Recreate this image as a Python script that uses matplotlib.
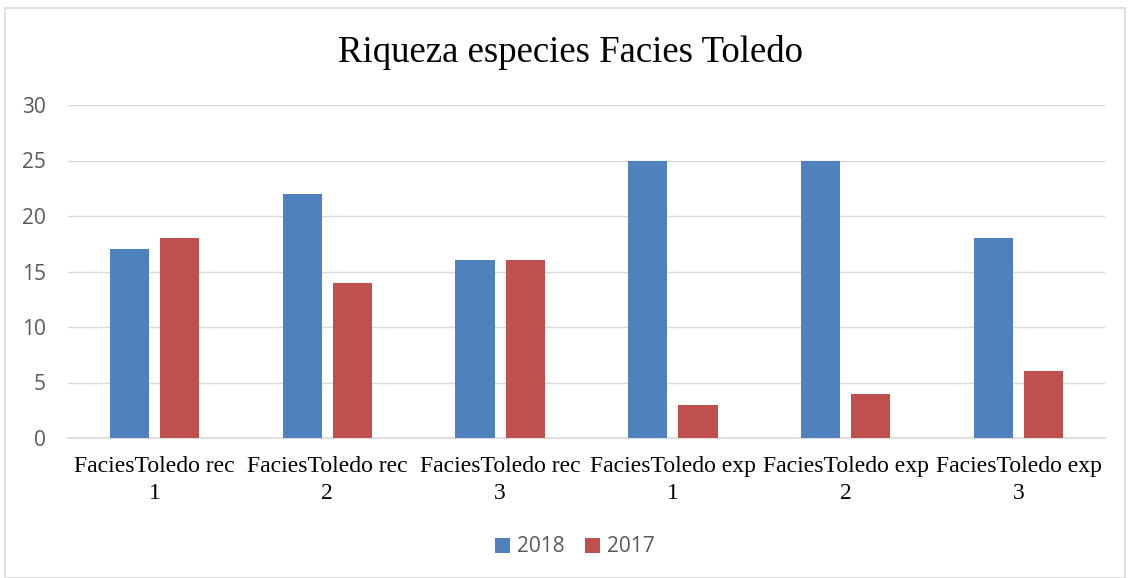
import matplotlib
matplotlib.use("Agg")
import matplotlib.pyplot as plt
import numpy as np
from matplotlib.patches import Rectangle

categories = ["FaciesToledo rec\n1", "FaciesToledo rec\n2", "FaciesToledo rec\n3",
              "FaciesToledo exp\n1", "FaciesToledo exp\n2", "FaciesToledo exp\n3"]
series_names = ["2018", "2017"]
values_2018 = [17, 22, 16, 25, 25, 18]
values_2017 = [18, 14, 16, 3, 4, 6]
yticks = [0, 5, 10, 15, 20, 25, 30]

fig = plt.figure(figsize=(11.32, 5.78), dpi=100)
fig.patches.append(Rectangle((5/1132, 0.0), 1120/1132, 1 - 8/578, transform=fig.transFigure,
                             fill=False, edgecolor="#d9d9d9", linewidth=1.2))
ax = fig.add_axes([68/1132, 1 - 438/578, (1105 - 68)/1132, (438 - 105)/578])

x = np.arange(len(categories))
w = 0.226
off = 0.145
ax.bar(x - off, values_2018, w, color="#4F81BD", label=series_names[0], zorder=3)
ax.bar(x + off, values_2017, w, color="#C0504D", label=series_names[1], zorder=3)

ax.set_xlim(-0.5, len(categories) - 0.5)
ax.set_ylim(0, 30)
ax.set_yticks(yticks)
ax.set_yticklabels([str(v) for v in yticks], fontsize=15, color="#595959", family="Open Sans")
ax.yaxis.grid(True, color="#d9d9d9", linewidth=1)
ax.set_axisbelow(True)
for s in ["top", "right", "left"]:
    ax.spines[s].set_visible(False)
ax.spines["bottom"].set_color("#d9d9d9")
ax.spines["bottom"].set_linewidth(1.2)
ax.tick_params(axis="both", length=0)
ax.tick_params(axis="y", pad=16)
ax.tick_params(axis="x", pad=13)
ax.set_xticks(x)
ax.set_xticklabels(categories, fontsize=17, family="Liberation Serif", color="black",
                   linespacing=1.4)

fig.text(570/1132, 1 - 52/578, "Riqueza especies Facies Toledo", ha="center", va="center",
         fontsize=26.5, family="Liberation Serif", color="black")

leg = fig.legend(loc="center", bbox_to_anchor=(575/1132, 1 - 547/578), ncol=2, frameon=False,
                 prop={"family": "Open Sans", "size": 15}, handlelength=0.7, handleheight=0.7,
                 columnspacing=1.0, handletextpad=0.35)
for t in leg.get_texts():
    t.set_color("#595959")

fig.savefig("out.png", dpi=100)
